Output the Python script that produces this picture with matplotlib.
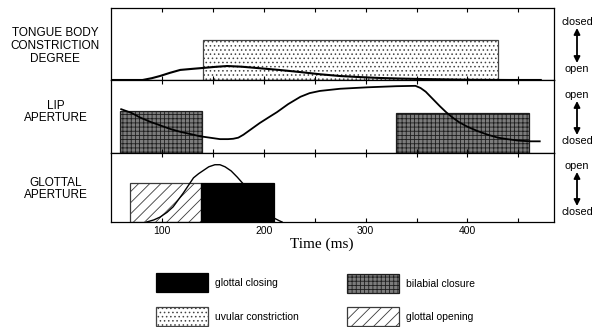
import matplotlib.pyplot as plt
from matplotlib.patches import Rectangle

plt.rcParams['font.family'] = ['Liberation Sans', 'DejaVu Sans']
plt.rcParams['hatch.linewidth'] = 0.6

# Time axis (ms)
xlim = (50, 485)

# Tongue body constriction degree (0 = open, 1 = closed, panel fraction)
tb_t = [50, 81, 90, 98, 108, 118, 130, 140, 152, 164, 178, 193, 215, 236, 255,
        275, 295, 314, 334, 354, 380, 403, 440, 472]
tb_v = [0, 0, 0.025, 0.055, 0.10, 0.14, 0.155, 0.167, 0.182, 0.194, 0.185, 0.167,
        0.14, 0.11, 0.08, 0.055, 0.04, 0.028, 0.02, 0.014, 0.008, 0.003, 0, 0]

# Lip aperture (0 = closed, 1 = open)
lip_t = [60, 70, 78, 88, 98, 108, 118, 128, 137, 147, 157, 165, 170, 175, 180,
         188, 196, 205, 213, 224, 236, 245, 255, 275, 302, 330, 349, 354, 359,
         366, 373, 379, 385, 392, 400, 410, 420, 430, 439, 450, 462, 471]
lip_v = [0.60, 0.55, 0.49, 0.43, 0.38, 0.33, 0.29, 0.26, 0.23, 0.21, 0.19, 0.19,
         0.195, 0.21, 0.25, 0.33, 0.41, 0.49, 0.56, 0.67, 0.77, 0.82, 0.85, 0.88,
         0.90, 0.915, 0.92, 0.89, 0.84, 0.74, 0.64, 0.56, 0.49, 0.42, 0.36, 0.30,
         0.25, 0.21, 0.19, 0.17, 0.16, 0.16]

# Glottal aperture (0 = closed, 1 = open)
gl_t = [85, 92, 98, 105, 111, 116, 121, 126, 131, 136, 141, 146, 152, 157, 162,
        168, 174, 180, 188, 195, 202, 207, 211, 215, 218]
gl_v = [0, 0.03, 0.07, 0.14, 0.22, 0.32, 0.42, 0.53, 0.64, 0.70, 0.75, 0.80,
        0.83, 0.83, 0.80, 0.74, 0.65, 0.55, 0.40, 0.26, 0.14, 0.08, 0.05, 0.02, 0]

# Gestural activation intervals: (start, end, height)
uvular = [(140, 430, 0.555)]
bilabial = [(59, 139, 0.575), (330, 460, 0.55)]
glottal_open = [(69, 138, 0.565)]
glottal_close = [(138, 210, 0.565)]

styles = {
    'glottal closing': dict(facecolor='black', edgecolor='black', hatch=None),
    'bilabial closure': dict(facecolor='#7c7c7c', edgecolor='#1e1e1e', hatch='++++'),
    'uvular constriction': dict(facecolor='white', edgecolor='#444444', hatch='....'),
    'glottal opening': dict(facecolor='white', edgecolor='#3a3a3a', hatch='///'),
}

fig = plt.figure(figsize=(5.95, 3.27), dpi=100)
left, width = 111 / 595, 443 / 595
ax1 = fig.add_axes([left, 1 - 80 / 327, width, 72 / 327])
ax2 = fig.add_axes([left, 1 - 153 / 327, width, 73 / 327])
ax3 = fig.add_axes([left, 1 - 222 / 327, width, 69 / 327])


def draw_boxes(ax, intervals, name):
    st = styles[name]
    for a, b, h in intervals:
        ax.add_patch(Rectangle((a, 0), b - a, h, facecolor=st['facecolor'],
                               edgecolor=st['edgecolor'], hatch=st['hatch'],
                               linewidth=0.9, zorder=3 if name == 'glottal closing' else 1))


draw_boxes(ax1, uvular, 'uvular constriction')
ax1.plot(tb_t, tb_v, color='black', lw=1.5, zorder=2)
draw_boxes(ax2, bilabial, 'bilabial closure')
ax2.plot(lip_t, lip_v, color='black', lw=1.3, zorder=2)
draw_boxes(ax3, glottal_open, 'glottal opening')
ax3.plot(gl_t, gl_v, color='black', lw=1.0, zorder=2)
draw_boxes(ax3, glottal_close, 'glottal closing')

for ax in (ax1, ax2, ax3):
    ax.set_xlim(*xlim)
    ax.set_ylim(0, 1)
    ax.set_yticks([])
    ax.set_xticks([100, 200, 300, 400])
    ax.set_xticks([150, 250, 350, 450], minor=True)
    ax.tick_params(axis='x', which='both', direction='in', top=True, bottom=True,
                   length=3, width=0.8, labelbottom=False)
    for s in ax.spines.values():
        s.set_linewidth(0.9)
ax3.tick_params(axis='x', which='major', labelbottom=True, labelsize=7.5, pad=3)
ax3.set_xlabel('Time (ms)', family='Liberation Serif', fontsize=11, labelpad=2)
ax3.xaxis.set_label_coords(0.475, -0.22)

# Tier labels on the left
lab = dict(ha='center', va='center', fontsize=8.5, linespacing=1.1)
fig.text(55 / 595, 1 - 46 / 327, 'TONGUE BODY\nCONSTRICTION\nDEGREE', **lab)
fig.text(56 / 595, 1 - 112 / 327, 'LIP\nAPERTURE', **lab)
fig.text(56 / 595, 1 - 189 / 327, 'GLOTTAL\nAPERTURE', **lab)

# Direction indicators on the right
rx = 577 / 595
for top_word, bot_word, ytop, ybot in [('closed', 'open', 22, 69),
                                       ('open', 'closed', 95, 141),
                                       ('open', 'closed', 166, 212)]:
    fig.text(rx, 1 - ytop / 327, top_word, ha='center', va='center', fontsize=7.8)
    fig.text(rx, 1 - ybot / 327, bot_word, ha='center', va='center', fontsize=7.8)
    fig.add_artist(plt.Annotation('', xy=(rx, 1 - (ytop + 6) / 327),
                                  xytext=(rx, 1 - (ybot - 6) / 327),
                                  xycoords='figure fraction',
                                  arrowprops=dict(arrowstyle='<|-|>', color='black',
                                                  lw=1.3, mutation_scale=9,
                                                  shrinkA=0, shrinkB=0)))

# Legend
legend_items = [('glottal closing', 156, 273), ('bilabial closure', 347, 274),
                ('uvular constriction', 156, 307), ('glottal opening', 347, 307)]
for name, x0, y0 in legend_items:
    st = styles[name]
    fig.add_artist(Rectangle((x0 / 595, 1 - (y0 + 19) / 327), 52 / 595, 19 / 327,
                             transform=fig.transFigure, facecolor=st['facecolor'],
                             edgecolor=st['edgecolor'], hatch=st['hatch'], linewidth=0.9))
    fig.text((x0 + 59) / 595, 1 - (y0 + 10) / 327, name, ha='left', va='center',
             fontsize=7.5)

fig.savefig('out.png', dpi=100)
